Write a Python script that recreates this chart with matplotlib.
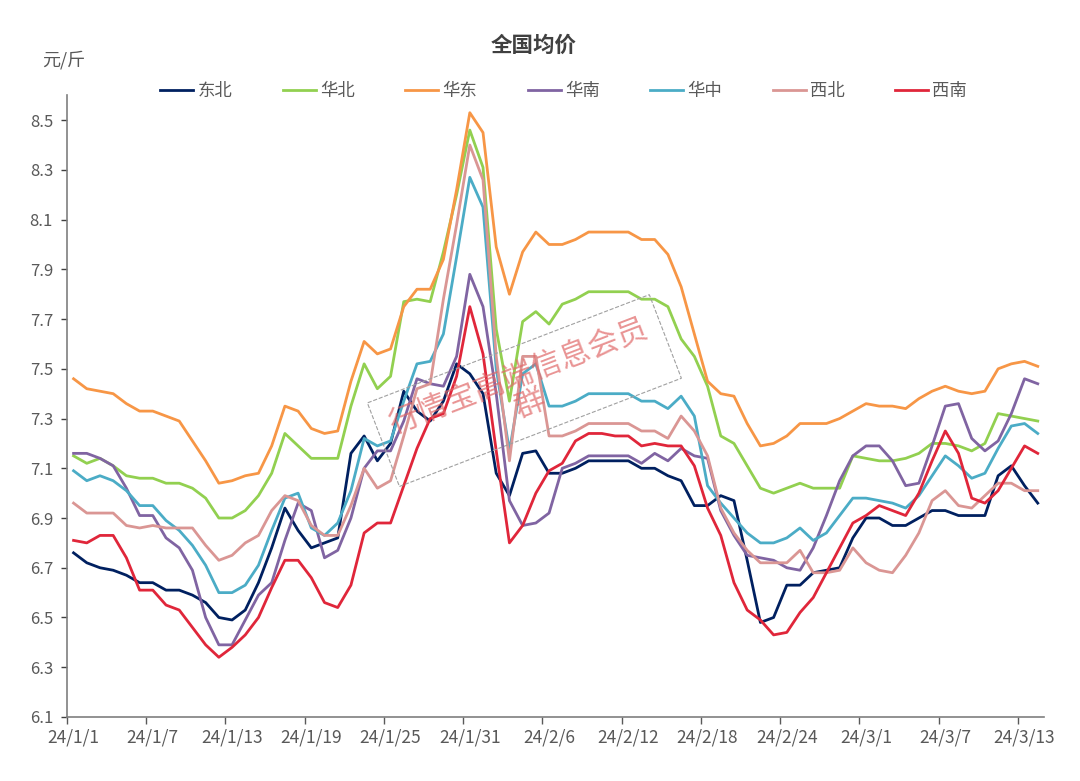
import matplotlib
matplotlib.use('Agg')
import matplotlib.pyplot as plt
import pandas as pd

plt.rcParams['font.family'] = ['Noto Sans CJK SC', 'DejaVu Sans']

# 日期 2024/1/1 - 2024/3/14
dates = pd.date_range('2024-01-01', periods=74)
date_labels = [f"24/{d.month}/{d.day}" for d in dates]

dongbei = [6.76, 6.72, 6.70, 6.69, 6.67, 6.64, 6.64, 6.61, 6.61, 6.59, 6.56, 6.50, 6.49, 6.53, 6.64, 6.78,
           6.94, 6.85, 6.78, 6.80, 6.82, 7.16, 7.23, 7.13, 7.20, 7.41, 7.33, 7.29, 7.37, 7.52, 7.48, 7.40,
           7.08, 6.99, 7.16, 7.17, 7.08, 7.08, 7.10, 7.13, 7.13, 7.13, 7.13, 7.10, 7.10, 7.07, 7.05, 6.95,
           6.95, 6.99, 6.97, 6.73, 6.48, 6.50, 6.63, 6.63, 6.68, 6.69, 6.70, 6.82, 6.90, 6.90, 6.87, 6.87,
           6.90, 6.93, 6.93, 6.91, 6.91, 6.91, 7.07, 7.11, 7.03, 6.96]
huabei = [7.15, 7.12, 7.14, 7.11, 7.07, 7.06, 7.06, 7.04, 7.04, 7.02, 6.98, 6.90, 6.90, 6.93, 6.99, 7.08,
          7.24, 7.19, 7.14, 7.14, 7.14, 7.35, 7.52, 7.42, 7.47, 7.77, 7.78, 7.77, 7.97, 8.20, 8.46, 8.31,
          7.66, 7.37, 7.69, 7.73, 7.68, 7.76, 7.78, 7.81, 7.81, 7.81, 7.81, 7.78, 7.78, 7.75, 7.62, 7.55,
          7.43, 7.23, 7.20, 7.11, 7.02, 7.00, 7.02, 7.04, 7.02, 7.02, 7.02, 7.15, 7.14, 7.13, 7.13, 7.14,
          7.16, 7.20, 7.20, 7.19, 7.17, 7.20, 7.32, 7.31, 7.30, 7.29]
huadong = [7.46, 7.42, 7.41, 7.40, 7.36, 7.33, 7.33, 7.31, 7.29, 7.21, 7.13, 7.04, 7.05, 7.07, 7.08, 7.19,
           7.35, 7.33, 7.26, 7.24, 7.25, 7.45, 7.61, 7.56, 7.58, 7.75, 7.82, 7.82, 7.94, 8.22, 8.53, 8.45,
           7.99, 7.80, 7.97, 8.05, 8.00, 8.00, 8.02, 8.05, 8.05, 8.05, 8.05, 8.02, 8.02, 7.96, 7.83, 7.64,
           7.45, 7.40, 7.39, 7.28, 7.19, 7.20, 7.23, 7.28, 7.28, 7.28, 7.30, 7.33, 7.36, 7.35, 7.35, 7.34,
           7.38, 7.41, 7.43, 7.41, 7.40, 7.41, 7.50, 7.52, 7.53, 7.51]
huanan = [7.16, 7.16, 7.14, 7.11, 7.02, 6.91, 6.91, 6.82, 6.78, 6.69, 6.50, 6.39, 6.39, 6.49, 6.59, 6.64,
          6.81, 6.96, 6.93, 6.74, 6.77, 6.90, 7.10, 7.17, 7.17, 7.29, 7.46, 7.44, 7.43, 7.55, 7.88, 7.75,
          7.40, 6.97, 6.87, 6.88, 6.92, 7.10, 7.12, 7.15, 7.15, 7.15, 7.15, 7.12, 7.16, 7.13, 7.18, 7.15,
          7.14, 6.93, 6.83, 6.75, 6.74, 6.73, 6.70, 6.69, 6.78, 6.91, 7.05, 7.15, 7.19, 7.19, 7.13, 7.03,
          7.04, 7.19, 7.35, 7.36, 7.22, 7.17, 7.21, 7.32, 7.46, 7.44]
huazhong = [7.09, 7.05, 7.07, 7.05, 7.01, 6.95, 6.95, 6.89, 6.85, 6.79, 6.71, 6.60, 6.60, 6.63, 6.71, 6.85,
            6.98, 7.00, 6.86, 6.83, 6.88, 7.01, 7.22, 7.19, 7.21, 7.37, 7.52, 7.53, 7.64, 7.95, 8.27, 8.15,
            7.50, 7.17, 7.48, 7.52, 7.35, 7.35, 7.37, 7.40, 7.40, 7.40, 7.40, 7.37, 7.37, 7.34, 7.39, 7.31,
            7.03, 6.96, 6.90, 6.84, 6.80, 6.80, 6.82, 6.86, 6.81, 6.84, 6.91, 6.98, 6.98, 6.97, 6.96, 6.94,
            6.99, 7.07, 7.15, 7.11, 7.06, 7.08, 7.18, 7.27, 7.28, 7.24]
xibei = [6.96, 6.92, 6.92, 6.92, 6.87, 6.86, 6.87, 6.86, 6.86, 6.86, 6.79, 6.73, 6.75, 6.80, 6.83, 6.93,
         6.99, 6.97, 6.87, 6.83, 6.83, 6.95, 7.10, 7.02, 7.05, 7.23, 7.42, 7.44, 7.78, 8.08, 8.40, 8.26,
         7.55, 7.13, 7.55, 7.55, 7.23, 7.23, 7.25, 7.28, 7.28, 7.28, 7.28, 7.25, 7.25, 7.22, 7.31, 7.25,
         7.15, 6.94, 6.84, 6.77, 6.72, 6.72, 6.72, 6.77, 6.68, 6.68, 6.69, 6.78, 6.72, 6.69, 6.68, 6.75,
         6.84, 6.97, 7.01, 6.95, 6.94, 6.99, 7.04, 7.04, 7.01, 7.01]
xinan = [6.81, 6.80, 6.83, 6.83, 6.74, 6.61, 6.61, 6.55, 6.53, 6.46, 6.39, 6.34, 6.38, 6.43, 6.50, 6.62,
         6.73, 6.73, 6.66, 6.56, 6.54, 6.63, 6.84, 6.88, 6.88, 7.03, 7.18, 7.30, 7.32, 7.47, 7.75, 7.56,
         7.17, 6.80, 6.87, 7.00, 7.09, 7.12, 7.21, 7.24, 7.24, 7.23, 7.23, 7.19, 7.20, 7.19, 7.19, 7.11,
         6.94, 6.83, 6.64, 6.53, 6.49, 6.43, 6.44, 6.52, 6.58, 6.68, 6.78, 6.88, 6.91, 6.95, 6.93, 6.91,
         7.00, 7.13, 7.25, 7.16, 6.98, 6.96, 7.01, 7.10, 7.19, 7.16]

names = ['东北', '华北', '华东', '华南', '华中', '西北', '西南']
series = [dongbei, huabei, huadong, huanan, huazhong, xibei, xinan]
colors = ['#002060', '#92D050', '#F79646', '#8064A2', '#4BACC6', '#DA9694', '#E0263A']

fig = plt.figure(figsize=(10.8, 7.81), dpi=100)
ax = fig.add_axes([0.062, 0.082, 0.905, 0.796])

x = list(range(len(dates)))
for name, vals, c in zip(names, series, colors):
    ax.plot(x, vals, color=c, lw=2.0, label=name)

ax.set_xlim(-0.5, len(dates) - 0.5)
ax.set_ylim(6.1, 8.6)

# 刻度线在类别之间, 标签在类别中心
ax.set_xticks([i - 0.5 for i in range(0, len(dates), 6)])
ax.set_xticklabels([])
ax.set_xticks(list(range(0, len(dates), 6)), minor=True)
ax.set_xticklabels(date_labels[::6], minor=True)
ax.tick_params(axis='x', which='minor', length=0, pad=8, labelsize=12.5, labelcolor='#595959')
ax.tick_params(axis='x', which='major', length=5, color='#595959', width=1)

yt = [6.1 + 0.2 * k for k in range(13)]
ax.set_yticks(yt)
ax.set_yticklabels([f"{v:.1f}" for v in yt])
ax.tick_params(axis='y', length=4, color='#404040', width=1, labelsize=12, labelcolor='#595959', pad=6)

for s in ['top', 'right']:
    ax.spines[s].set_visible(False)
for s in ['left', 'bottom']:
    ax.spines[s].set_color('#7f7f7f')
    ax.spines[s].set_linewidth(1.2)

fig.text(0.494, 1 - 45 / 781, '全国均价', ha='center', va='center', fontsize=15.5,
         fontweight='bold', color='#404040')
fig.text(0.039, 1 - 60 / 781, '元/斤', ha='left', va='center', fontsize=13, color='#595959')

fig.legend(loc='center', bbox_to_anchor=(0.522, 1 - 91 / 781), ncol=7, frameon=False,
           fontsize=12.5, handlelength=1.9, handletextpad=0.25, columnspacing=2.9,
           labelcolor='#595959')

# 水印
ax.text(0.468, 0.525, '行情宝高端信息会员\n群', transform=ax.transAxes, rotation=21,
        ha='center', va='center', fontsize=22, color='#E06868', alpha=0.7,
        rotation_mode='anchor', multialignment='center', linespacing=1.0,
        bbox=dict(boxstyle='square,pad=0.45', fc='none', ec='#a0a0a0', ls='--', lw=0.8))

fig.savefig('out.png', dpi=100)
